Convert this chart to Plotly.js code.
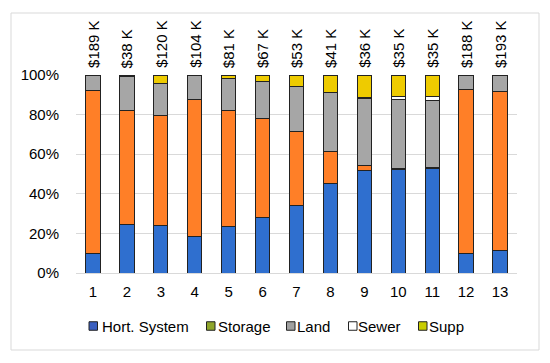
<!DOCTYPE html>
<html>
<head>
<meta charset="utf-8">
<script src="https://cdn.plot.ly/plotly-3.0.1.min.js"></script>
<style>html,body{margin:0;padding:0;background:#fff;}#chart{width:550px;height:363px;}</style>
</head>
<body>
<div id="chart"></div>
<script>
const categories = ['1','2','3','4','5','6','7','8','9','10','11','12','13'];
const totalLabels = ['$189 K','$38 K','$120 K','$104 K','$81 K','$67 K','$53 K','$41 K','$36 K','$35 K','$35 K','$188 K','$193 K'];
const hortSystem = [9.9, 24.7, 23.9, 18.3, 23.4, 28.1, 34.3, 45.3, 51.7, 52.4, 53.0, 9.6, 11.3];
const storage    = [82.5, 57.6, 55.9, 69.1, 58.9, 50.0, 37.1, 16.0, 2.5, 0.4, 0.3, 83.2, 80.3];
const land       = [7.6, 16.9, 15.7, 12.1, 16.0, 18.5, 23.0, 29.8, 34.1, 34.9, 33.7, 7.2, 8.4];
const sewer      = [0, 0.8, 0, 0, 0, 0, 0, 0, 0.4, 1.2, 2.0, 0, 0];
const supp       = [0, 0, 4.5, 0.5, 1.7, 3.4, 5.6, 8.9, 11.3, 11.1, 11.0, 0, 0];

const seriesNames = ['Hort. System','Storage','Land','Sewer','Supp'];
const seriesValues = [hortSystem, storage, land, sewer, supp];
const seriesColors = ['#2F6FCF','#FF7F27','#A6A6A6','#FFFFFF','#EECB00'];
const legendSwatchColors = ['#3A5FC0','#8FA52A','#A0A0A0','#FFFFFF','#C8CC00'];

const traces = seriesNames.map((n,i)=>({
  type:'bar', name:n, x:categories, y:seriesValues[i],
  marker:{color:seriesColors[i], line:{color:'#222222', width:1}},
  hoverinfo:'name+y', showlegend:false
}));

// plot-area geometry (pixels) for converting legend positions to paper coords
const L = 76, R = 33, T = 75, B = 90, W = 550, H = 363;
const pw = W - L - R, ph = H - T - B;
const px = v => (v - L) / pw;
const py = v => (H - B - v) / ph;

const annotations = categories.map((c,i)=>({
  x:i, y:100, xref:'x', yref:'y', text:totalLabels[i], showarrow:false,
  textangle:-90, yanchor:'bottom', xanchor:'center', yshift:5,
  font:{family:'Liberation Sans, Arial, sans-serif', size:15, color:'#000'}
}));

const swatchX = [89, 206.5, 286.5, 348.5, 418.5];
const textX = [100.7, 216.7, 296, 357.3, 428.3];
const legendY = 326;
const shapes = [{type:'rect', xref:'paper', yref:'paper', x0:px(11), x1:px(539), y0:py(350), y1:py(13), line:{color:'#D9D9D9', width:1}, fillcolor:'rgba(0,0,0,0)', layer:'below'}];
seriesNames.forEach((n,i)=>{
  shapes.push({type:'rect', xref:'paper', yref:'paper', x0:px(swatchX[i]), x1:px(swatchX[i]+8.5), y0:py(legendY+4.25), y1:py(legendY-4.25),
    fillcolor:legendSwatchColors[i], line:{color:'#222222', width:1}});
  annotations.push({x:px(textX[i]), y:py(legendY), xref:'paper', yref:'paper', text:n, showarrow:false,
    xanchor:'left', yanchor:'middle', borderpad:0,
    font:{family:'Liberation Sans, Arial, sans-serif', size:15, color:'#000'}});
});

const layout = {
  width:W, height:H,
  margin:{l:L, r:R, t:T, b:B},
  paper_bgcolor:'#fff', plot_bgcolor:'#fff',
  barmode:'stack', bargap:0.58,
  font:{family:'Liberation Sans, Arial, sans-serif', size:15, color:'#000'},
  xaxis:{type:'category', showline:true, linecolor:'#D9D9D9', linewidth:1, ticks:'', showgrid:false, zeroline:false, tickfont:{size:15}, ticklabelstandoff:5},
  yaxis:{range:[0,100], dtick:20, ticksuffix:'%', showgrid:true, gridcolor:'#D9D9D9', gridwidth:1, zeroline:false, showline:false,
         ticks:'outside', ticklen:13, tickcolor:'rgba(0,0,0,0)', tickfont:{size:15}},
  showlegend:false,
  annotations:annotations,
  shapes:shapes
};

Plotly.newPlot('chart', traces, layout, {displayModeBar:false, staticPlot:true});
</script>
</body>
</html>
